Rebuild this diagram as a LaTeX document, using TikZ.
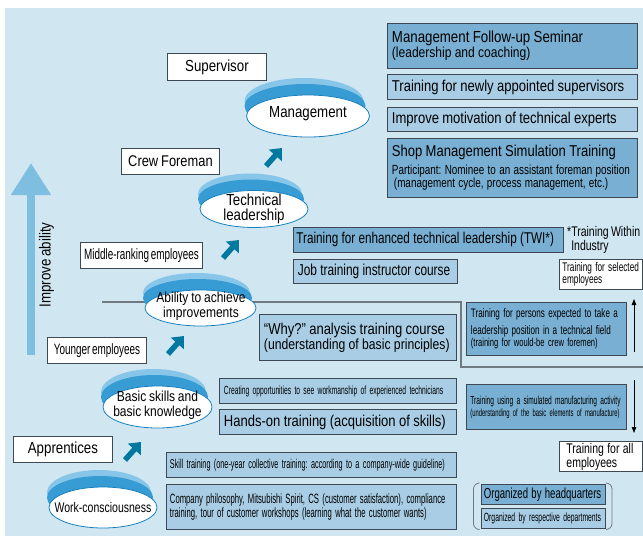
\documentclass[tikz,border=0pt]{standalone}
\usepackage{fontspec}
\usepackage{tikz}
\usetikzlibrary{arrows.meta}
\newfontfamily\fA[FakeStretch=0.83, WordSpace=0.83]{Liberation Sans}
\newfontfamily\fB[FakeStretch=0.75, WordSpace=0.75]{Liberation Sans}
\newfontfamily\fC[FakeStretch=0.66, WordSpace=0.66]{Liberation Sans}
\newfontfamily\fD[FakeStretch=0.57, WordSpace=0.57]{Liberation Sans}
\newcommand{\fsz}[2]{\fontsize{#1}{#2}\selectfont}
\frenchspacing
\definecolor{bgblue}{RGB}{208,231,242}
\definecolor{hqblue}{RGB}{120,175,210}
\definecolor{deptblue}{RGB}{168,205,228}
\definecolor{boxline}{RGB}{62,72,82}
\definecolor{bandlight}{RGB}{135,198,232}
\definecolor{banddark}{RGB}{55,155,212}
\definecolor{rimblue}{RGB}{25,128,188}
\definecolor{arrowteal}{RGB}{0,120,160}
\definecolor{upblue}{RGB}{125,190,225}
\definecolor{sepgray}{RGB}{112,120,128}

\tikzset{
  box/.style={draw=boxline, line width=0.9pt, inner xsep=4.5pt, inner ysep=0pt,
    align=left, anchor=north west, font=\fA},
  hq/.style={box, fill=hqblue},
  dept/.style={box, fill=deptblue},
  rolebox/.style={draw=boxline, fill=white, line width=0.9pt, inner sep=0pt,
    align=center, anchor=north west, font=\fA},
  levtext/.style={align=center, inner sep=0pt, font=\fA},
  upstep/.style={arrowteal, line width=5.5pt, -{Triangle[width=17pt,length=10pt]}},
  tick/.style={black, line width=1pt, -{Triangle[width=4.5pt,length=6pt]}},
}

\begin{document}
\begin{tikzpicture}[x=1pt,y=-1pt]
\useasboundingbox (0,0) rectangle (643,538);

% background
\fill[bgblue] (5,8) rectangle (643,536);

% line between the two groups
\draw[sepgray, line width=1.3pt] (102,302) -| (461,367) -- (643,367);

% improve ability
\coordinate (abase) at (31,355);
\coordinate (atip) at (31,163);
\draw[upblue, line width=8pt, -{Triangle[width=38pt,length=32pt]}] (abase) -- (atip);
\node[levtext, rotate=90, font=\fA\fsz{16}{17}] (improve) at (46.5,265) {Improve ability};

% levels (ellipses with blue rims)
\foreach \cx/\cy/\rx/\ry in {308/116/61.5/21, 254/209/54/18.5, 200.5/308/55.5/18,
                             157.5/407/54.5/21, 103/507.5/54/20.5} {
  \fill[bandlight] (\cx-4,\cy-15) ellipse [x radius=\rx-2, y radius=\ry+2];
  \fill[banddark] (\cx-3,\cy-10) ellipse [x radius=\rx-1, y radius=\ry+1];
  \draw[rimblue, fill=white, line width=0.8pt] (\cx,\cy) ellipse [x radius=\rx, y radius=\ry];
}
\node[levtext, font=\fA\fsz{16}{15}] (mgmt) at (308,114) {Management};
\node[levtext, font=\fA\fsz{16}{15}] (techlead) at (254,209) {Technical\\leadership};
\node[levtext, font=\fA\fsz{14.5}{14.5}] (achieve) at (201,306) {Ability to achieve\\improvements};
\node[levtext, font=\fA\fsz{14.5}{15.3}] (basics) at (157.5,405) {Basic skills and\\basic knowledge};
\node[levtext, font=\fB\fsz{14}{15}] (workcon) at (103,507) {Work-consciousness};

% steps between levels
\foreach \x/\y in {266/166, 223/258, 168/354, 125/460}
  \draw[upstep] (\x,\y) -- ++(16,-18);

% positions
\node[rolebox, minimum width=99pt, minimum height=27pt, font=\fA\fsz{16}{17}] (supervisor) at (167,53) {Supervisor};
\node[rolebox, minimum width=98pt, minimum height=26pt, font=\fA\fsz{15.5}{17}] (foreman) at (121,148) {Crew Foreman};
\node[rolebox, minimum width=122pt, minimum height=26pt, font=\fC\fsz{15}{17}] (middle) at (80,242) {Middle-ranking employees};
\node[rolebox, minimum width=99pt, minimum height=26pt, font=\fC\fsz{15}{17}] (younger) at (47,337) {Younger employees};
\node[rolebox, minimum width=99pt, minimum height=26pt, font=\fA\fsz{16}{17}] (apprentice) at (13,436) {Apprentices};

% supervisor courses
\node[hq, text width=241pt, minimum height=45pt] (seminar) at (387,23)
  {\fsz{16}{17}Management Follow-up Seminar\\\fsz{14.5}{17}(leadership and coaching)};
\node[dept, text width=241pt, minimum height=25pt] (newsup) at (387,74)
  {\fsz{15.7}{17}Training for newly appointed supervisors};
\node[dept, text width=241pt, minimum height=24pt] (motiv) at (387,107)
  {\fsz{15.7}{17}Improve motivation of technical experts};
\node[hq, text width=241pt, minimum height=59pt] (shopsim) at (387,138)
  {\fsz{15.7}{17.5}Shop Management Simulation Training\\
   \fB\fsz{13.2}{17.5}Participant: Nominee to an assistant foreman position\\
   \hspace*{2pt}(management cycle, process management, etc.)};

% crew foreman courses
\node[hq, inner xsep=3pt, text width=264pt, minimum height=25pt] (twi) at (293,227)
  {\fB\fsz{15.6}{17}Training for enhanced technical leadership (TWI*)};
\node[levtext, align=left, anchor=north west, font=\fB\fsz{14}{13}] (twinote) at (567,226)
  {*Training Within\\\phantom{*}Industry};
\node[dept, text width=155pt, minimum height=24pt] (jobinst) at (293,259)
  {\fB\fsz{15.8}{17}Job training instructor course};
\node[rolebox, align=left, inner xsep=3pt, text width=77pt, minimum height=30pt] (selected) at (559,259)
  {\fC\fsz{12.5}{14}Training for selected\\employees};

% younger employees
\node[dept, text width=188pt, minimum height=46pt] (why) at (259,314)
  {\fsz{15.7}{16.7}“Why?” analysis training course\\\fsz{14.7}{16.7}(understanding of basic principles)};
\node[hq, text width=151pt, minimum height=53pt] (persons) at (466,302)
  {\fC\fsz{12.3}{16.7}Training for persons expected to take a\\
   leadership position in a technical field\\
   \fsz{11.5}{16.7}(training for would-be crew foremen)};
\coordinate (upfoot) at (634,352);
\draw[tick] (upfoot) -- ++(0,-53);

% apprentices
\node[dept, text width=228pt, minimum height=25pt] (creating) at (219,378)
  {\fD\fsz{11.8}{15}Creating opportunities to see workmanship of experienced technicians};
\node[dept, text width=228pt, minimum height=25pt] (handson) at (219,409)
  {\fsz{15.7}{17}Hands-on training (acquisition of skills)};
\node[hq, inner xsep=4pt, text width=152pt, minimum height=45pt] (simact) at (466,384)
  {\fD\fsz{11.6}{15}Training using a simulated manufacturing activity\\
   \fsz{10.3}{15}(understanding of the basic elements of manufacture)};
\coordinate (downtop) at (634,380);
\draw[tick] (downtop) -- ++(0,53);
\node[rolebox, align=left, inner xsep=7pt, text width=69pt, minimum height=30pt] (allemp) at (559,441)
  {\fB\fsz{14}{13.5}Training for all\\employees};

% all new employees
\node[dept, inner xsep=3.5pt, text width=283pt, minimum height=25pt] (skill) at (166,452)
  {\fD\fsz{12.8}{15}Skill training (one-year collective training: according to a company-wide guideline)};
\node[dept, inner xsep=3.5pt, text width=283pt, minimum height=45pt] (philo) at (166,484)
  {\fD\fsz{13.5}{16.7}Company philosophy, Mitsubishi Spirit, CS (customer satisfaction), compliance\\
   training, tour of customer workshops (learning what the customer wants)};

% legend
\node[hq, inner xsep=2.5pt, text width=119pt, minimum height=20pt] (orghq) at (481,484)
  {\fC\fsz{14.5}{15}Organized by headquarters};
\node[dept, inner xsep=2.5pt, text width=119pt, minimum height=20pt] (orgdept) at (481,508)
  {\fD\fsz{11.9}{14}Organized by respective departments};
\draw[sepgray, line width=0.8pt, rounded corners=6pt] (479,483) -- (473.5,483) -- (473.5,529.5) -- (479,529.5);
\draw[sepgray, line width=0.8pt, rounded corners=6pt] (606.5,483) -- (612,483) -- (612,529.5) -- (606.5,529.5);

\end{tikzpicture}
\end{document}
